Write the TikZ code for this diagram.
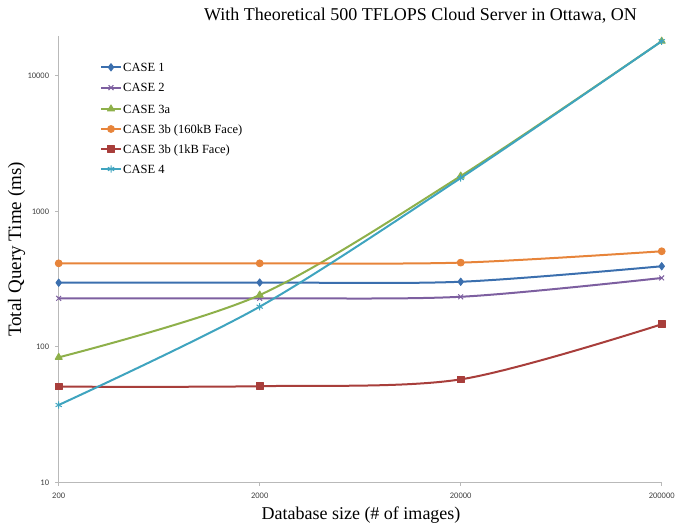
\documentclass[tikz,border=0pt]{standalone}
\usepackage{fontspec}
\setmainfont{Liberation Serif}
\newfontfamily\tickfont{Carlito}
\usetikzlibrary{plotmarks}
\definecolor{caseonecolor}{HTML}{3B6FAE}
\definecolor{casetwocolor}{HTML}{7D5FA0}
\definecolor{casethreeacolor}{HTML}{8EB04A}
\definecolor{bigfacecolor}{HTML}{E7843A}
\definecolor{smallfacecolor}{HTML}{A83E3B}
\definecolor{casefourcolor}{HTML}{3FA4BF}

\begin{document}
\begin{tikzpicture}[x=1pt, y=1pt,
    axisline/.style={draw=gray!55, line width=0.9pt},
    ticklabel/.style={font=\tickfont\fontsize{8.5}{10}\selectfont, text=black!75, inner sep=0pt},
    bigtext/.style={font=\fontsize{18}{21}\selectfont, anchor=base},
    legendtext/.style={font=\fontsize{12.5}{14}\selectfont, anchor=base west, inner sep=0pt},
    series/.style={draw=#1, line width=2pt, line join=round,
        mark options={solid, fill=#1, draw=#1, line width=1pt}},
    caseone/.style={series=caseonecolor, mark=diamond*, mark size=3.6pt},
    casetwo/.style={series=casetwocolor, mark=x, mark size=3.4pt},
    casethreea/.style={series=casethreeacolor, mark=triangle*, mark size=4pt},
    bigface/.style={series=bigfacecolor, mark=*, mark size=3.4pt},
    smallface/.style={series=smallfacecolor, mark=square*, mark size=3.3pt},
    casefour/.style={series=casefourcolor, mark=asterisk, mark size=3.6pt}
]
\useasboundingbox (0,0) rectangle (675,527);

\node[bigtext] (title) at (420.5,506) {With Theoretical 500 TFLOPS Cloud Server in Ottawa, ON};
\node[bigtext] (xlabel) at (361,7) {Database size (\# of images)};
\node[bigtext, rotate=90, font=\fontsize{19}{22}\selectfont] (ylabel) at (21,277.5) {Total Query Time (ms)};

% log-log frame: one decade per unit on both axes
% (values above 10^4 written as 3+log10(...) to keep pgfmath in range)
\begin{scope}[shift={(58.7pt,-90.8pt)}, x=201pt, y=135.5pt]
  \draw[axisline] (0,4.294) -- (0,1) -- (3,1);
  \foreach \k/\lab in {1/10,2/100,3/1000,4/10000}{
    \draw[axisline] (0,\k) -- ++(-4pt,0);
    \node[ticklabel, anchor=east] (ytick-\k) at ([xshift=-9.4pt]0,\k) {\lab};
  }
  \foreach \k/\lab in {0/200,1/2000,2/20000,3/200000}{
    \draw[axisline] (\k,1) -- ++(0,-4pt);
    \node[ticklabel] (xtick-\k) at ([yshift=-13.7pt]\k,1) {\lab};
  }

  \draw[caseone] plot[smooth] coordinates {(0,{log10(297)}) (1,{log10(298)}) (2,{log10(302)}) (3,{log10(393)})};
  \draw[casetwo] plot[smooth] coordinates {(0,{log10(228)}) (1,{log10(228)}) (2,{log10(234)}) (3,{log10(322)})};
  \draw[casethreea] plot[smooth] coordinates {(0,{log10(83.6)}) (1,{log10(241)}) (2,{log10(1820)}) (3,{3+log10(18)})};
  \draw[bigface] plot[smooth] coordinates {(0,{log10(413)}) (1,{log10(413)}) (2,{log10(418)}) (3,{log10(507)})};
  \draw[smallface] plot[smooth] coordinates {(0,{log10(50.8)}) (1,{log10(51.2)}) (2,{log10(57.5)}) (3,{log10(146.6)})};
  \draw[casefour] plot[smooth] coordinates {(0,{log10(37.2)}) (1,{log10(197.7)}) (2,{log10(1760)}) (3,{3+log10(18)})};
\end{scope}

% legend
\draw[caseone, mark phase=2, mark repeat=3] plot coordinates {(101,459.7) (111,459.7) (121,459.7)};
\node[legendtext] (leg-one) at (123,455.5) {CASE 1};
\draw[casetwo, mark phase=2, mark repeat=3] plot coordinates {(101,439.3) (111,439.3) (121,439.3)};
\node[legendtext] (leg-two) at (123,435.1) {CASE 2};
\draw[casethreea, mark phase=2, mark repeat=3] plot coordinates {(101,418) (111,418) (121,418)};
\node[legendtext] (leg-threea) at (123,413.8) {CASE 3a};
\draw[bigface, mark phase=2, mark repeat=3] plot coordinates {(101,398) (111,398) (121,398)};
\node[legendtext] (leg-bigface) at (123,393.8) {CASE 3b (160kB Face)};
\draw[smallface, mark phase=2, mark repeat=3] plot coordinates {(101,378) (111,378) (121,378)};
\node[legendtext] (leg-smallface) at (123,373.8) {CASE 3b (1kB Face)};
\draw[casefour, mark phase=2, mark repeat=3] plot coordinates {(101,358) (111,358) (121,358)};
\node[legendtext] (leg-four) at (123,353.8) {CASE 4};
\end{tikzpicture}
\end{document}
